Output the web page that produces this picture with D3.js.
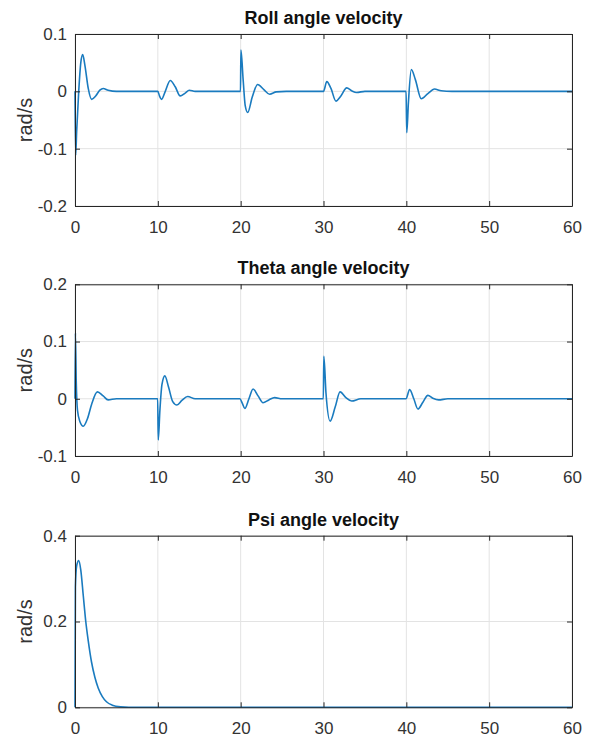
<!DOCTYPE html>
<html>
<head>
<meta charset="utf-8">
<script src="https://cdn.jsdelivr.net/npm/d3@7"></script>
<style>
  html, body { margin: 0; padding: 0; background: #fff; }
  svg { display: block; }
  text { font-family: "Liberation Sans", Arial, sans-serif; }
</style>
</head>
<body>
<svg id="chart" width="594" height="740"></svg>
<script>
// ---------- data ----------
const titles = ["Roll angle velocity", "Theta angle velocity", "Psi angle velocity"];
const yLabel = "rad/s";
const xTicks = [0, 10, 20, 30, 40, 50, 60];

const rollTicks  = [-0.2, -0.1, 0, 0.1];
const thetaTicks = [-0.1, 0, 0.1, 0.2];
const psiTicks   = [0, 0.2, 0.4];

const rollT = [0, 0.08, 0.2, 0.45, 0.7, 0.93, 1.2, 1.6, 2.0, 2.5, 3.0, 3.4, 4.0, 5.0,
  10.0, 10.2, 10.45, 10.9, 11.5, 12.1, 12.7, 13.3, 13.8, 14.5,
  19.98, 20.03, 20.3, 20.55, 20.85, 21.4, 22.05, 22.8, 23.5, 24.3, 25.5,
  30.0, 30.4, 30.9, 31.5, 32.1, 32.8, 33.4, 34.0, 35.0,
  39.97, 40.05, 40.25, 40.6, 41.1, 41.8, 42.6, 43.4, 44.2, 45.5, 60];
const rollV = [0, -0.112, -0.07, 0.0, 0.05, 0.064, 0.045, 0.005, -0.014, -0.008, 0.002, 0.005, 0.002, 0,
  0, -0.008, -0.014, 0.0, 0.019, 0.008, -0.008, -0.003, 0.002, 0,
  0, 0.072, 0.02, -0.025, -0.037, -0.01, 0.012, 0.003, -0.005, -0.001, 0,
  0, 0.017, 0.005, -0.017, -0.008, 0.006, 0.001, -0.002, 0,
  0, -0.072, -0.02, 0.038, 0.02, -0.013, -0.004, 0.004, 0.001, 0, 0];

const thetaT = [0, 0.05, 0.15, 0.3, 0.6, 1.0, 1.5, 2.0, 2.7, 3.4, 4.0, 5.0,
  9.98, 10.05, 10.25, 10.5, 10.85, 11.3, 11.8, 12.3, 12.9, 13.6, 14.5,
  19.9, 20.2, 20.5, 21.0, 21.5, 22.1, 22.7, 23.4, 24.1, 25.0,
  29.98, 30.04, 30.3, 30.8, 31.4, 32.0, 32.7, 33.4, 34.5,
  39.95, 40.4, 40.9, 41.4, 42.0, 42.6, 43.2, 43.9, 45.0, 60];
const thetaV = [0, 0.115, 0.03, -0.02, -0.04, -0.048, -0.035, -0.01, 0.012, 0.005, -0.002, 0,
  0, -0.072, -0.02, 0.025, 0.04, 0.02, -0.005, -0.011, -0.003, 0.004, 0,
  0, -0.008, -0.017, 0.0, 0.017, 0.005, -0.007, -0.002, 0.002, 0,
  0, 0.074, 0.01, -0.039, -0.015, 0.012, 0.002, -0.004, 0,
  0, 0.016, 0.0, -0.018, -0.006, 0.006, 0.001, -0.002, 0, 0];

const psiT = [0, 0.05, 0.2, 0.45, 0.7, 1.0, 1.3, 1.6, 2.0, 2.4, 2.8, 3.3, 3.8, 4.5, 5.5, 6.5, 60];
const psiV = [0, 0.28, 0.33, 0.342, 0.32, 0.26, 0.2, 0.155, 0.105, 0.07, 0.045, 0.025, 0.013, 0.005, 0.001, 0, 0];

// ---------- layout ----------
const svg = d3.select("#chart");
const left = 75, right = 572;
const panels = [
  { title: titles[0], t: rollT,  v: rollV,  ticks: rollTicks,  dom: [-0.2, 0.1], top: 34,    bottom: 206 },
  { title: titles[1], t: thetaT, v: thetaV, ticks: thetaTicks, dom: [-0.1, 0.2], top: 284.3, bottom: 456 },
  { title: titles[2], t: psiT,   v: psiV,   ticks: psiTicks,   dom: [0, 0.4],    top: 535.7, bottom: 707.3 }
];

const lineColor = "#1a7bbf";
const axisColor = "#262626";
const gridColor = "#e3e3e3";
const tickLen = 5;

panels.forEach(p => {
  const x = d3.scaleLinear().domain([0, 60]).range([left, right]);
  const y = d3.scaleLinear().domain(p.dom).range([p.bottom, p.top]);
  const g = svg.append("g");

  // grid
  g.selectAll(".gx").data(xTicks).enter().append("line")
    .attr("x1", d => x(d)).attr("x2", d => x(d))
    .attr("y1", p.top).attr("y2", p.bottom)
    .attr("stroke", gridColor).attr("stroke-width", 1);
  g.selectAll(".gy").data(p.ticks).enter().append("line")
    .attr("x1", left).attr("x2", right)
    .attr("y1", d => y(d)).attr("y2", d => y(d))
    .attr("stroke", gridColor).attr("stroke-width", 1);

  // data line
  const pts = p.t.map((t, i) => [t, p.v[i]]);
  const line = d3.line().x(d => x(d[0])).y(d => y(d[1])).curve(d3.curveMonotoneX);
  g.append("path").datum(pts)
    .attr("d", line)
    .attr("fill", "none")
    .attr("stroke", lineColor)
    .attr("stroke-width", 1.6)
    .attr("stroke-linejoin", "round");

  // axes (inward ticks, box)
  const fmt = d => (d === 0 ? "0" : String(+d.toFixed(1)));
  const xB = d3.axisBottom(x).tickValues(xTicks).tickSizeInner(-tickLen).tickSizeOuter(0).tickPadding(15).tickFormat(d => String(d));
  const xT = d3.axisTop(x).tickValues(xTicks).tickSizeInner(-tickLen).tickSizeOuter(0).tickFormat("");
  const yL = d3.axisLeft(y).tickValues(p.ticks).tickSizeInner(-tickLen).tickSizeOuter(0).tickPadding(8).tickFormat(fmt);
  const yR = d3.axisRight(y).tickValues(p.ticks).tickSizeInner(-tickLen).tickSizeOuter(0).tickFormat("");

  const styleAxis = sel => {
    sel.select(".domain").attr("stroke", axisColor).attr("stroke-width", 1);
    sel.selectAll(".tick line").attr("stroke", axisColor);
    sel.selectAll("text").attr("fill", "#333").style("font-size", "17px")
      .style("font-family", "'Liberation Sans', Arial, sans-serif");
  };
  g.append("g").attr("transform", `translate(0,${p.bottom})`).call(xB).call(styleAxis);
  g.append("g").attr("transform", `translate(0,${p.top})`).call(xT).call(styleAxis);
  g.append("g").attr("transform", `translate(${left},0)`).call(yL).call(styleAxis);
  g.append("g").attr("transform", `translate(${right},0)`).call(yR).call(styleAxis);

  // title
  g.append("text")
    .attr("x", (left + right) / 2).attr("y", p.top - 10)
    .attr("text-anchor", "middle")
    .style("font-size", "18px").style("font-weight", "bold")
    .attr("fill", "#111")
    .text(p.title);

  // y label
  g.append("text")
    .attr("transform", `translate(32,${(p.top + p.bottom) / 2}) rotate(-90)`)
    .attr("text-anchor", "middle")
    .style("font-size", "20px")
    .attr("fill", "#333")
    .text(yLabel);
});
</script>
</body>
</html>
